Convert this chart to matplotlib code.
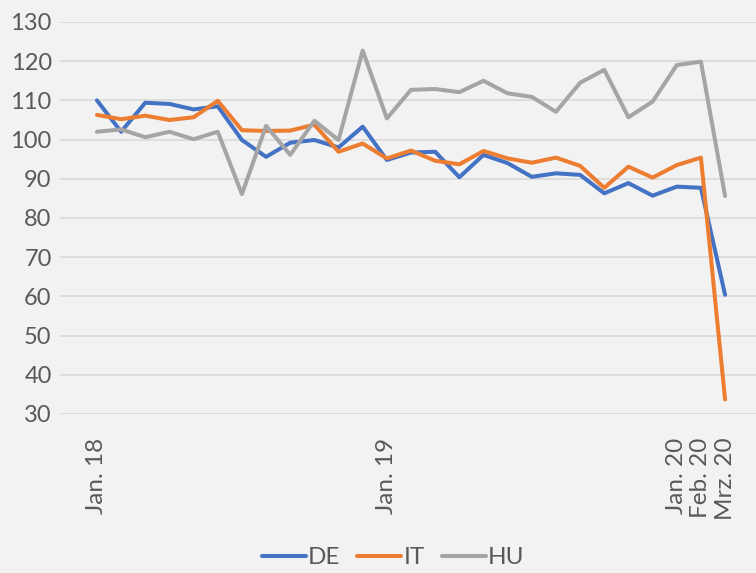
import matplotlib
matplotlib.use('Agg')
import matplotlib.pyplot as plt

# Monatswerte Jan. 18 bis Mrz. 20 (27 Monate)
monate = list(range(27))
tick_pos = [0, 12, 24, 25, 26]
tick_labels = ['Jan. 18', 'Jan. 19', 'Jan. 20', 'Feb. 20', 'Mrz. 20']

de = [110.0, 102.0, 109.4, 109.1, 107.7, 108.5, 99.9, 95.6, 99.2, 99.9,
      98.0, 103.3, 94.8, 96.7, 96.9, 90.4, 96.1, 94.0, 90.5, 91.4,
      91.0, 86.3, 88.9, 85.7, 88.0, 87.7, 60.4]
it = [106.3, 105.2, 106.1, 105.0, 105.7, 109.9, 102.4, 102.2, 102.3, 103.8,
      96.9, 99.0, 95.2, 97.2, 94.6, 93.7, 97.1, 95.2, 94.1, 95.4,
      93.3, 87.7, 93.1, 90.3, 93.5, 95.4, 33.7]
hu = [102.0, 102.6, 100.6, 102.0, 100.1, 102.0, 86.1, 103.5, 96.1, 104.8,
      99.9, 122.7, 105.4, 112.7, 112.9, 112.1, 115.0, 111.8, 110.9, 107.1,
      114.5, 117.8, 105.7, 109.7, 119.0, 119.9, 85.6]

bg = '#F2F2F2'
txt = '#595959'
plt.rcParams['font.family'] = ['Lato', 'DejaVu Sans']

fig = plt.figure(figsize=(7.56, 5.73), dpi=100, facecolor=bg)
ax = fig.add_axes([60 / 756, 1 - 414 / 573, 1 - 60 / 756, (414 - 22) / 573])
ax.set_facecolor(bg)

for werte, farbe, name in [(de, '#4472C4', 'DE'), (it, '#ED7D31', 'IT'), (hu, '#A5A5A5', 'HU')]:
    ax.plot(monate, werte, color=farbe, linewidth=2.9, label=name,
            solid_joinstyle='round', solid_capstyle='round')

ax.set_ylim(30, 130)
ax.set_xlim(-1.53, 27.28)
ax.set_yticks(range(30, 131, 10))
ax.yaxis.grid(True, color='#D9D9D9', linewidth=1.2)
ax.set_axisbelow(True)
ax.set_xticks(tick_pos)
ax.set_xticklabels(tick_labels, rotation=90, va='top', ha='center')
ax.tick_params(axis='x', length=0, labelsize=17.5, colors=txt, pad=17)
ax.tick_params(axis='y', length=0, labelsize=17, colors=txt, pad=6)
for s in ax.spines.values():
    s.set_visible(False)

fig.legend(loc='lower center', bbox_to_anchor=(0.52, -0.03), ncol=3, frameon=False,
           fontsize=17.5, labelcolor=txt, handlelength=1.8, handletextpad=0.1,
           columnspacing=0.7)

fig.savefig('out.png', dpi=100, facecolor=bg)
